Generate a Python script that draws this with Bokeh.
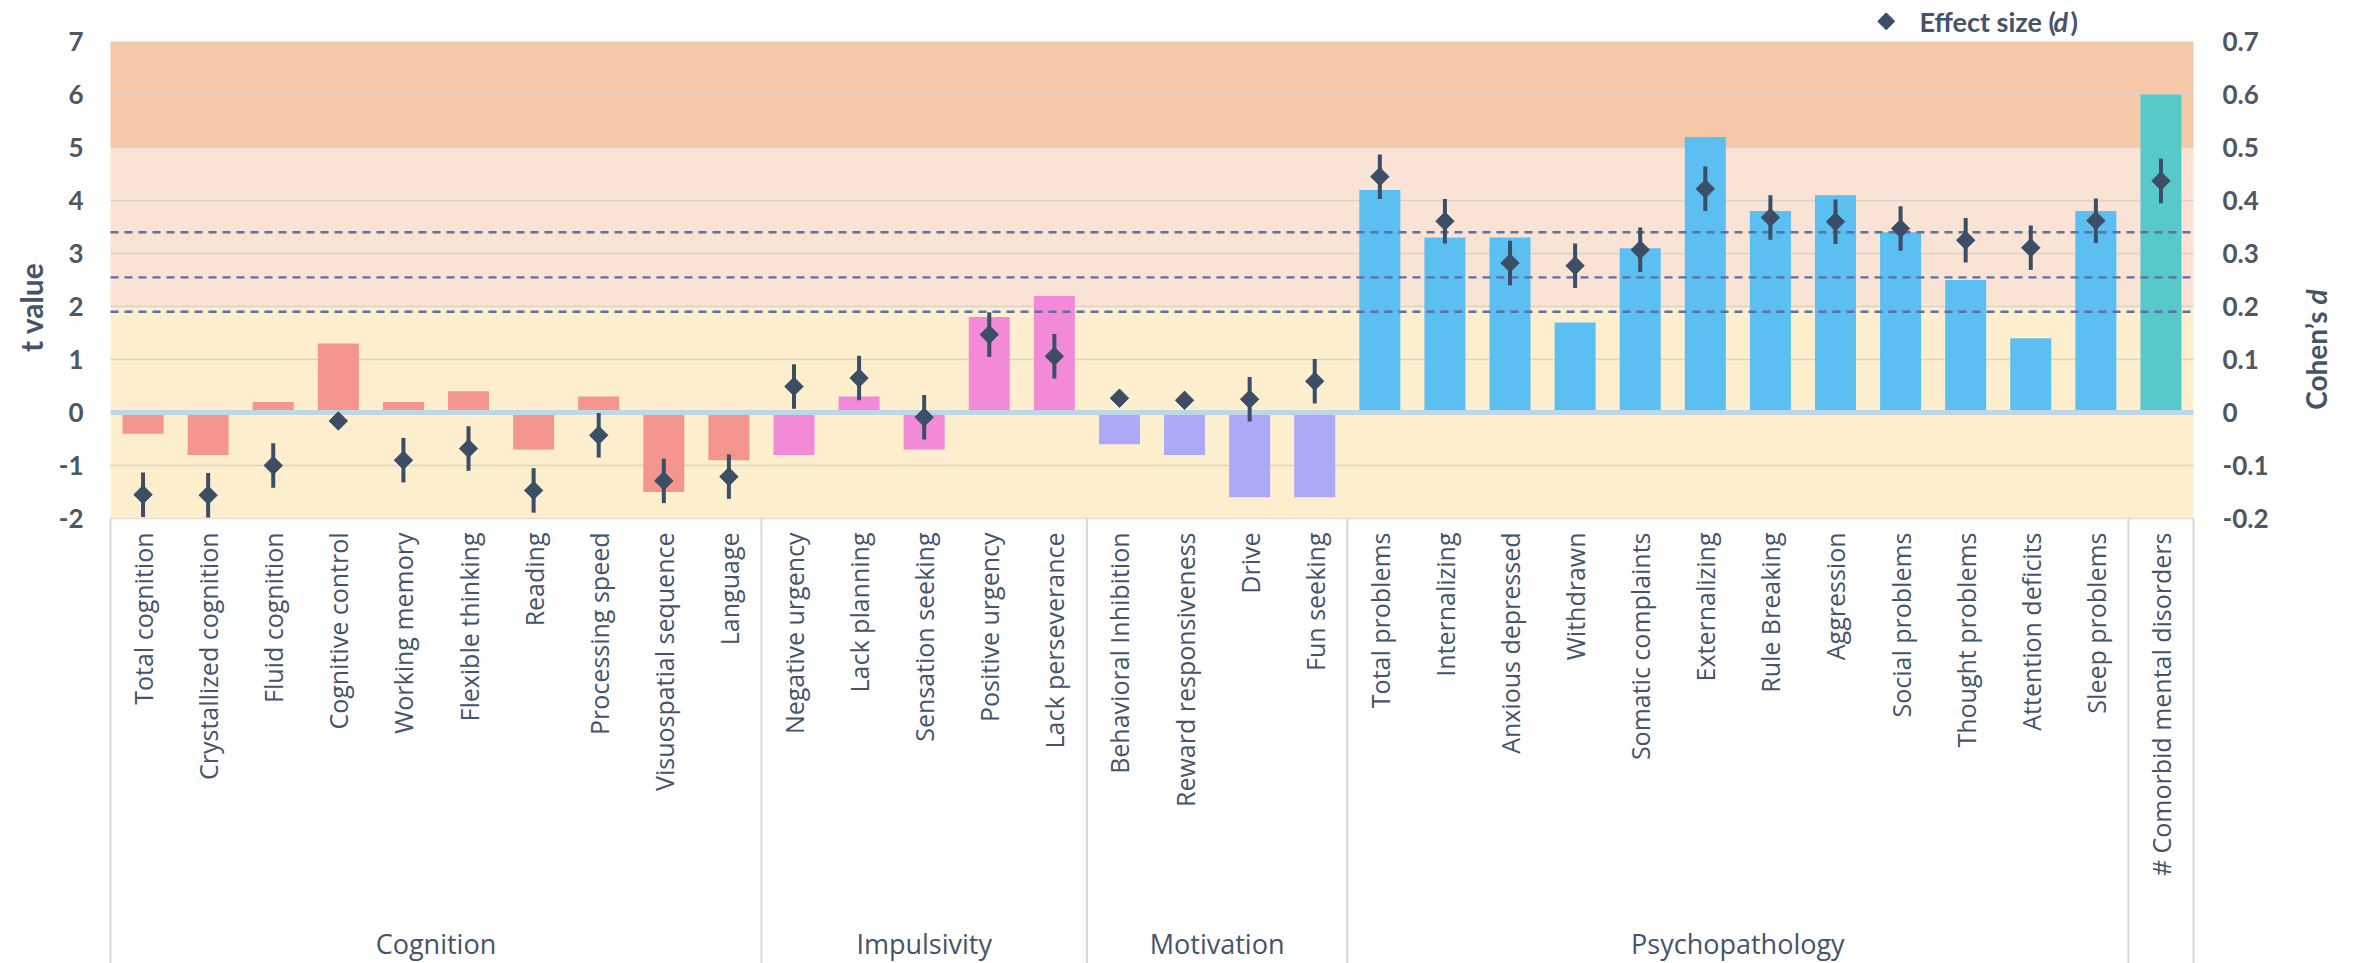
import math
import numpy as np
from bokeh.plotting import figure
from bokeh.models import Range1d
from bokeh.core.properties import value
from bokeh.embed import file_html
from bokeh.resources import INLINE

# ---- data -------------------------------------------------------------
group_names = ["Cognition", "Impulsivity", "Motivation", "Psychopathology", ""]
group_sizes = [10, 5, 4, 12, 1]
group_colors = ["#F4968E", "#F28AD8", "#ADA8F8", "#5BBFF2", "#58C9C9"]

categories = [
    "Total cognition", "Crystallized cognition", "Fluid cognition", "Cognitive control",
    "Working memory", "Flexible thinking", "Reading", "Processing speed",
    "Visuospatial sequence", "Language",
    "Negative urgency", "Lack planning", "Sensation seeking", "Positive urgency",
    "Lack perseverance",
    "Behavioral Inhibition", "Reward responsiveness", "Drive", "Fun seeking",
    "Total problems", "Internalizing", "Anxious depressed", "Withdrawn",
    "Somatic complaints", "Externalizing", "Rule Breaking", "Aggression",
    "Social problems", "Thought problems", "Attention deficits", "Sleep problems",
    "# Comorbid mental disorders",
]

# t values (bars, left axis)
t_values = [
    -0.4, -0.8, 0.2, 1.3, 0.2, 0.4, -0.7, 0.3, -1.5, -0.9,
    -0.8, 0.3, -0.7, 1.8, 2.2,
    -0.6, -0.8, -1.6, -1.6,
    4.2, 3.3, 3.3, 1.7, 3.1, 5.2, 3.8, 4.1, 3.4, 2.5, 1.4, 3.8,
    6.0,
]

# Cohen's d (diamonds, right axis) and half-width of its interval
effect_d = [
    -0.155, -0.156, -0.100, -0.016, -0.090, -0.068, -0.147, -0.043, -0.129, -0.121,
    0.049, 0.065, -0.009, 0.147, 0.106,
    0.027, 0.023, 0.025, 0.059,
    0.445, 0.361, 0.282, 0.277, 0.307, 0.422, 0.368, 0.360, 0.347, 0.325, 0.311, 0.362,
    0.437,
]
effect_err = [
    0.042, 0.042, 0.042, 0.0, 0.042, 0.042, 0.042, 0.042, 0.042, 0.042,
    0.042, 0.042, 0.042, 0.042, 0.042,
    0.0, 0.0, 0.042, 0.042,
    0.042, 0.042, 0.042, 0.042, 0.042, 0.042, 0.042, 0.042, 0.042, 0.042, 0.042, 0.042,
    0.042,
]

t_ticks = [-2, -1, 0, 1, 2, 3, 4, 5, 6, 7]
t_tick_labels = ["-2", "-1", "0", "1", "2", "3", "4", "5", "6", "7"]
d_tick_labels = ["-0.2", "-0.1", "0", "0.1", "0.2", "0.3", "0.4", "0.5", "0.6", "0.7"]

# shaded ranges of t, and reference thresholds (dashed)
bands = [(-2, 2, "#FDEFCE"), (2, 5, "#F9E3D5"), (5, 7, "#F5C8A8")]
thresholds = [1.90, 2.55, 3.40]

# ---- layout -----------------------------------------------------------
W, H = 2354, 963
PLOT_LEFT, PLOT_RIGHT = 110, 2193   # horizontal extent of the shaded chart
PX_PER_T = 53.0                     # vertical pixels per t unit
TOP_PX = 41                         # space above t = 7 (legend row)
LABEL_AREA_PX = 445                 # category label area under the chart
T_MIN, T_MAX = -2, 7

n = len(categories)
px_per_cat = (PLOT_RIGHT - PLOT_LEFT) / n
y_bottom = T_MIN - LABEL_AREA_PX / PX_PER_T
y_top = T_MAX + TOP_PX / PX_PER_T
x_lo = -PLOT_LEFT / px_per_cat
x_hi = n + (W - PLOT_RIGHT) / px_per_cat


def xpx(px):
    """x coordinate of a horizontal page position (pixels from the left)."""
    return x_lo + px / px_per_cat


def ypx(px):
    """y (t) coordinate of a vertical page position (pixels from the top)."""
    return y_top - px / PX_PER_T


x = np.arange(n) + 0.5
bar_colors = [c for c, k in zip(group_colors, group_sizes) for _ in range(k)]
bounds = np.concatenate([[0], np.cumsum(group_sizes)])
group_centers = [(a + b) / 2 for a, b in zip(bounds[:-1], bounds[1:])]
d_lo = [d - e for d, e in zip(effect_d, effect_err)]
d_hi = [d + e for d, e in zip(effect_d, effect_err)]

TXT = "#44546A"
TICK_TXT = "#4E5763"
MARK = "#3C4D66"
FONT = "Lato"

p = figure(
    width=W, height=H,
    x_range=Range1d(x_lo, x_hi), y_range=Range1d(y_bottom, y_top),
    x_axis_type=None, y_axis_type=None,
    output_backend="svg", toolbar_location=None, min_border=0,
    outline_line_color=None, background_fill_color="white",
)
p.extra_y_ranges = {"d": Range1d(y_bottom / 10, y_top / 10)}
p.xgrid.visible = False
p.ygrid.visible = False

# background bands and grid lines
for lo, hi, col in bands:
    p.quad(left=[0], right=[n], bottom=[lo], top=[hi], fill_color=col, line_color=None)
grid_t = [t for t in t_ticks if t not in (T_MIN, 0, T_MAX)]
p.segment(x0=0, y0=grid_t, x1=n, y1=grid_t, line_color="#DCD2CA", line_width=1.5)
p.segment(x0=[0], y0=[T_MIN], x1=[n], y1=[T_MIN], line_color="#E4DED2", line_width=1.5)

# group separators in the label area
p.segment(x0=bounds, y0=T_MIN, x1=bounds, y1=y_bottom,
          line_color="#D5D9E0", line_width=2)

# bars
p.vbar(x=x, top=t_values, bottom=0, width=0.63, fill_color=bar_colors, line_color=None)

# zero line and thresholds
p.segment(x0=[0], y0=[0], x1=[n], y1=[0], line_color="#BDD7E7", line_width=5)
p.segment(x0=0, y0=thresholds, x1=n, y1=thresholds,
          line_color="#5D6FA8", line_width=2.4, line_dash="8 6")

# effect sizes with intervals (right-hand scale)
p.segment(x0=x, y0=d_lo, x1=x, y1=d_hi, line_color=MARK, line_width=4,
          y_range_name="d")
p.scatter(x=x, y=effect_d, marker="square", angle=math.pi / 4, size=13,
          fill_color=MARK, line_color=MARK, y_range_name="d")

# tick labels on both sides
tick_style = dict(text_baseline="middle", text_font=value(FONT),
                  text_font_style="bold", text_font_size="26px", text_color=TICK_TXT)
p.text(x=xpx(PLOT_LEFT - 27), y=t_ticks, text=t_tick_labels, text_align="right",
       **tick_style)
p.text(x=xpx(PLOT_RIGHT + 29), y=t_ticks, text=d_tick_labels, text_align="left",
       **tick_style)

# category and group labels
p.text(x=x, y=T_MIN - 14 / PX_PER_T, text=categories, angle=math.pi / 2,
       text_align="right", text_baseline="middle",
       text_font=value("Open Sans"), text_font_size="25px", text_color=TXT)
p.text(x=group_centers[:-1], y=T_MIN - 425 / PX_PER_T, text=group_names[:-1],
       text_align="center", text_baseline="alphabetic",
       text_font=value("Open Sans"), text_font_size="27px", text_color=TXT)

# rotated axis titles, each part anchored at its upper end
title_style = dict(angle=math.pi / 2, text_align="right", text_baseline="middle",
                   text_font=value(FONT), text_color=TXT)
p.text(x=[xpx(30)], y=[ypx(262)], text=["t value"], text_font_style="bold",
       text_font_size="30px", **title_style)
p.text(x=[xpx(2315)], y=[ypx(311)], text=["Cohen\u2019s"], text_font_style="bold",
       text_font_size="28px", **title_style)
p.text(x=[xpx(2315)], y=[ypx(289)], text=["d"], text_font_style="bold italic",
       text_font_size="28px", **title_style)

# legend
p.scatter(x=[27.28], y=[7.38], marker="square", angle=math.pi / 4, size=12,
          fill_color=MARK, line_color=MARK)
legend_parts = [(27.79, "Effect size (", "bold"), (29.85, "d", "bold italic"),
                (30.11, ")", "bold")]
for lx, txt, style in legend_parts:
    p.text(x=[lx], y=[7.38], text=[txt], text_align="left", text_baseline="middle",
           text_font=value(FONT), text_font_style=style, text_font_size="27px",
           text_color=TXT)

open("out.html", "w").write(file_html(p, INLINE))
